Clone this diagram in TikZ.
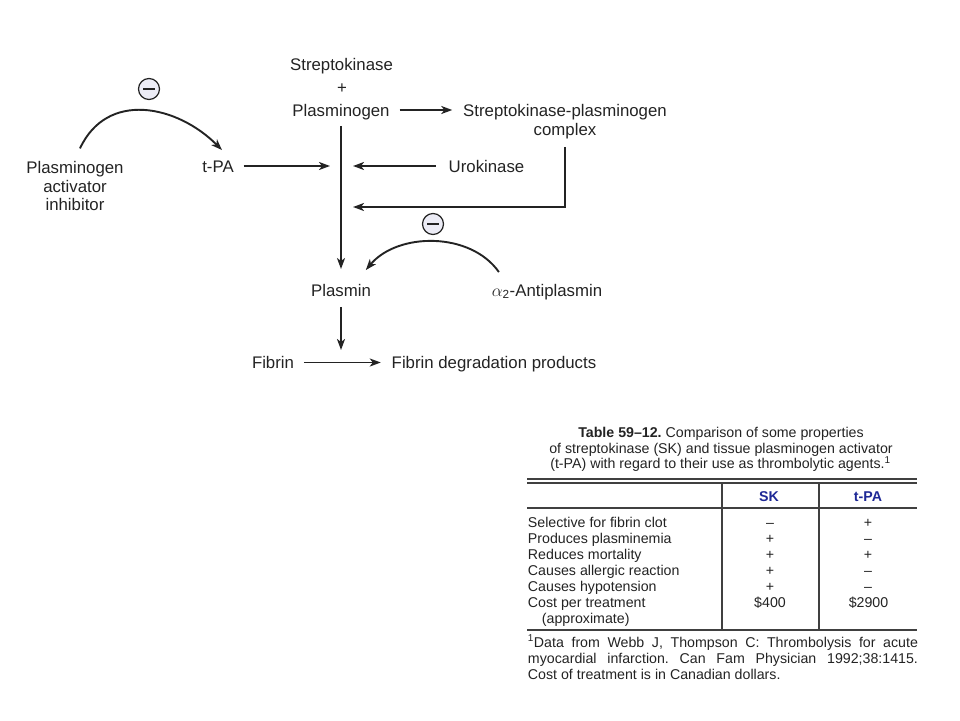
\documentclass[tikz,border=0pt]{standalone}
\usepackage{fontspec}
\setmainfont{Liberation Sans}
\usetikzlibrary{arrows.meta}
\definecolor{skblue}{RGB}{30,40,150}
\definecolor{minusfill}{RGB}{236,236,246}
\definecolor{inkgray}{RGB}{35,35,35}
\frenchspacing

\begin{document}
\begin{tikzpicture}[x=1pt,y=-1pt,line width=1.9pt,draw=inkgray,
  chem/.style={anchor=center,inner sep=4pt,text=inkgray,text height=12pt,text depth=0pt,font=\fontsize{16.8}{18.5}\selectfont},
  arr/.style={-{Stealth[length=11pt,width=8pt,inset=3pt]}},
  minuscirc/.style={circle,draw=inkgray,line width=1.2pt,fill=minusfill,minimum size=21pt,inner sep=0pt,
    path picture={\draw[line width=1.6pt,inkgray] ([xshift=-6pt]path picture bounding box.center) -- ([xshift=6pt]path picture bounding box.center);}},
  tab/.style={inner sep=0pt,text=inkgray,font=\fontsize{14.2}{16}\selectfont},
  tabrule/.style={line width=1.2pt,draw=black!75}]
\path[use as bounding box] (0,0) rectangle (960,720);
\node[chem] (strep) at (341.5,64) {Streptokinase};
\node[chem] (plus) at (342,87.7) {+};
\node[chem] (plg) at (341,110) {Plasminogen};
\node[chem] (cplx) at (565,110) {Streptokinase-plasminogen};
\node[chem] (cplxb) at (565,129) {complex};
\node[chem] (tpa) at (218,166) {t-PA};
\node[chem] (uk) at (486.5,166) {Urokinase};
\node[anchor=center,inner sep=4pt,align=center,text=inkgray,font=\fontsize{16.8}{18.5}\selectfont] (pai) at (75,186) {Plasminogen\\activator\\inhibitor};
\node[chem] (plasmin) at (341,290) {Plasmin};
\node[chem] (ap) at (547,290) {$\alpha$\textsubscript{2}-Antiplasmin};
\node[chem] (fibrin) at (273,362.5) {Fibrin};
\node[chem] (fdp) at (494,362.5) {Fibrin degradation products};
\node[minuscirc] (inh1) at (149,89) {};
\node[minuscirc] (inh2) at (433,224) {};
\coordinate (hub1) at (341,166);
\coordinate (hub2) at (341,207);
\coordinate (cat) at (341,362.5);
\draw[arr,shorten <=5pt,shorten >=6pt] (plg) -- (cplx);
\draw[arr,shorten <=5pt,shorten >=10pt] (plg) -- (plasmin);
\draw[arr,shorten <=5pt,shorten >=11pt] (tpa) -- (hub1);
\draw[arr,shorten <=8pt,shorten >=12pt] (uk) -- (hub1);
\draw[arr,shorten <=7pt,shorten >=12pt] (cplxb) |- (hub2);
\draw[arr,shorten <=6pt,shorten >=12.5pt] (plasmin) -- (cat);
\draw[arr,shorten <=5pt,shorten >=6pt] (fibrin) -- (fdp);
\draw[arr] ([xshift=5pt,yshift=8pt]pai.north) to[out=65,in=135,looseness=1.15] ([xshift=4pt,yshift=5pt]tpa.north);
\draw[arr] ([xshift=12pt,yshift=7pt]ap.north west) to[out=125,in=50,looseness=0.95] ([xshift=-10pt,yshift=9pt]plasmin.north east);
\node[tab,anchor=base] (cap1) at (721,437) {\textbf{Table 59–12.} Comparison of some properties};
\node[tab,anchor=base] (cap2) at (721,453) {of streptokinase (SK) and tissue plasminogen activator};
\node[tab,anchor=base] (cap3) at (720.5,468.5) {(t-PA) with regard to their use as thrombolytic agents.\textsuperscript{1}};
\draw[tabrule] (527,479) -- (917,479);
\draw[tabrule] (527,483) -- (917,483);
\draw[tabrule] (527,508) -- (917,508);
\draw[tabrule] (527,630) -- (917,630);
\draw[tabrule] (722,483) -- (722,630);
\draw[tabrule] (819,483) -- (819,630);
\node[tab,anchor=base,text=skblue] (hsk) at (769,501) {\bfseries SK};
\node[tab,anchor=base,text=skblue] (htpa) at (868,501) {\bfseries t-PA};
\node[tab,anchor=base west] (r1) at (527,527) {Selective for fibrin clot};
\node[tab,anchor=base] (r1sk) at (770,527) {–};
\node[tab,anchor=base] (r1tpa) at (868,527) {+};
\node[tab,anchor=base west] (r2) at (527,543) {Produces plasminemia};
\node[tab,anchor=base] (r2sk) at (770,543) {+};
\node[tab,anchor=base] (r2tpa) at (868,543) {–};
\node[tab,anchor=base west] (r3) at (527,559) {Reduces mortality};
\node[tab,anchor=base] (r3sk) at (770,559) {+};
\node[tab,anchor=base] (r3tpa) at (868,559) {+};
\node[tab,anchor=base west] (r4) at (527,575) {Causes allergic reaction};
\node[tab,anchor=base] (r4sk) at (770,575) {+};
\node[tab,anchor=base] (r4tpa) at (868,575) {–};
\node[tab,anchor=base west] (r5) at (527,591) {Causes hypotension};
\node[tab,anchor=base] (r5sk) at (770,591) {+};
\node[tab,anchor=base] (r5tpa) at (868,591) {–};
\node[tab,anchor=base west] (r6) at (527,607) {Cost per treatment};
\node[tab,anchor=base] (r6sk) at (770,607) {\$400};
\node[tab,anchor=base] (r6tpa) at (868.5,607) {\$2900};
\node[tab,anchor=base west] (r7) at (541,623) {(approximate)};
\node[tab,anchor=base west] (note1) at (527,647) {\makebox[390pt][s]{\textsuperscript{1}Data from Webb J, Thompson C: Thrombolysis for acute}};
\node[tab,anchor=base west] (note2) at (527,663) {\makebox[390pt][s]{myocardial infarction. Can Fam Physician 1992;38:1415.}};
\node[tab,anchor=base west] (note3) at (527,679) {Cost of treatment is in Canadian dollars.};
\end{tikzpicture}
\end{document}
